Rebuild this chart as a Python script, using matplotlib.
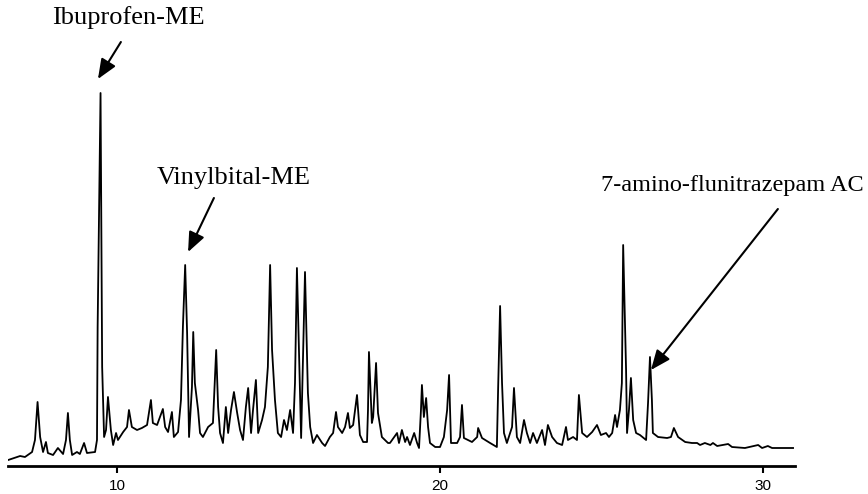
import matplotlib.pyplot as plt

# Chromatogram trace: retention time (min) and detector response
tempos = [6.63, 7.00, 7.15, 7.37, 7.46, 7.54, 7.62, 7.71, 7.80, 7.86, 8.02, 8.17, 8.33, 8.42, 8.48,
          8.54, 8.61, 8.76, 8.85, 8.98, 9.07, 9.32, 9.38, 9.40, 9.49, 9.54, 9.60, 9.66, 9.72, 9.81,
          9.88, 9.97, 10.03, 10.19, 10.31, 10.37, 10.46, 10.62, 10.77, 10.93, 11.05, 11.11, 11.24,
          11.42, 11.49, 11.58, 11.70, 11.76, 11.89, 11.98, 12.04, 12.11, 12.17, 12.23, 12.32, 12.36,
          12.41, 12.51, 12.57, 12.66, 12.82, 12.97, 13.07, 13.13, 13.19, 13.28, 13.37, 13.44, 13.53,
          13.62, 13.72, 13.81, 13.90, 13.99, 14.06, 14.15, 14.21, 14.30, 14.37, 14.49, 14.58, 14.67,
          14.74, 14.80, 14.89, 14.98, 15.08, 15.17, 15.26, 15.36, 15.45, 15.51, 15.57, 15.70, 15.82,
          15.91, 15.98, 16.07, 16.19, 16.35, 16.44, 16.59, 16.69, 16.78, 16.84, 16.97, 17.06, 17.15,
          17.21, 17.31, 17.43, 17.52, 17.62, 17.74, 17.77, 17.80, 17.89, 17.93, 18.02, 18.08, 18.20,
          18.39, 18.45, 18.67, 18.73, 18.82, 18.92, 18.98, 19.07, 19.20, 19.29, 19.35, 19.41, 19.44,
          19.50, 19.57, 19.63, 19.69, 19.85, 20.00, 20.12, 20.22, 20.28, 20.34, 20.53, 20.62, 20.68,
          20.74, 20.99, 21.15, 21.18, 21.30, 21.55, 21.76, 21.80, 21.86, 21.92, 21.98, 22.07, 22.23,
          22.29, 22.38, 22.48, 22.60, 22.69, 22.79, 22.88, 23.00, 23.16, 23.25, 23.34, 23.47, 23.62,
          23.78, 23.90, 23.96, 24.12, 24.24, 24.30, 24.40, 24.55, 24.71, 24.86, 24.98, 25.14, 25.23,
          25.33, 25.42, 25.48, 25.57, 25.63, 25.67, 25.76, 25.79, 25.85, 25.91, 25.98, 26.07, 26.19,
          26.38, 26.44, 26.50, 26.56, 26.59, 26.75, 27.03, 27.15, 27.24, 27.37, 27.59, 27.80, 27.96,
          28.05, 28.20, 28.37, 28.45, 28.58, 28.92, 29.04, 29.44, 29.85, 29.97, 30.15, 30.28, 30.93]

sinal = [6, 10, 9, 14, 26, 64, 29, 14, 24, 13, 11, 18, 12, 26, 53,
         26, 11, 14, 12, 23, 13, 14, 26, 139, 373, 99, 29, 36, 69, 36,
         21, 33, 26, 34, 39, 56, 39, 36, 38, 41, 66, 43, 41,
         57, 39, 34, 54, 29, 34, 66, 139, 201, 133, 29, 79, 134,
         83, 56, 33, 29, 39, 43, 116, 59, 33, 23, 59, 33, 56,
         74, 53, 36, 26, 59, 78, 33, 56, 86, 33, 46, 59, 99,
         201, 116, 66, 33, 29, 46, 36, 56, 33, 83, 198, 28, 194,
         73, 39, 23, 31, 23, 20, 29, 33, 54, 39, 33, 39, 53,
         38, 41, 71, 31, 24, 24, 56, 114, 43, 49, 103, 53, 29,
         23, 23, 33, 23, 36, 24, 29, 21, 33, 23, 18, 56, 81,
         49, 68, 39, 23, 19, 19, 29, 56, 91, 23, 23, 29, 61,
         28, 24, 29, 38, 28, 23, 19, 79, 160, 83, 33, 23, 39,
         78, 29, 23, 46, 33, 23, 33, 23, 36, 21, 41, 29, 23,
         21, 39, 26, 29, 26, 71, 33, 29, 34, 41, 31, 33, 29,
         33, 51, 39, 56, 83, 221, 96, 33, 56, 88, 46, 33, 31,
         26, 63, 109, 66, 33, 29, 28, 29, 38, 29, 24, 23, 23,
         21, 23, 21, 23, 20, 22, 19, 18, 21, 18, 20, 18, 18]

marcas = [10, 20, 30]

fig = plt.figure(figsize=(8.68, 4.94), dpi=100)
ax = fig.add_axes([8 / 868, 28 / 494, 787 / 868, 466 / 494])

ax.plot(tempos, sinal, color='black', lw=1.3)
ax.set_xlim(6.625, 30.99)
ax.set_ylim(0, 466)

# so o eixo de baixo aparece
for lado in ['top', 'right', 'left']:
    ax.spines[lado].set_visible(False)
ax.spines['bottom'].set_linewidth(2)
ax.set_yticks([])
ax.set_xticks(marcas)
ax.set_xticklabels([str(m) for m in marcas], family=['Liberation Sans Narrow', 'Liberation Sans'], fontsize=11)
ax.tick_params(axis='x', direction='out', length=5, width=1.5, pad=4)

# anotacoes dos picos
serif = ['Liberation Serif', 'DejaVu Serif']
seta = dict(arrowstyle='-|>,head_length=0.6,head_width=0.25', color='black', lw=1.5,
            shrinkA=0, shrinkB=0, mutation_scale=20)

ax.text(10.34, 448, 'Ibuprofen-ME', family=serif, fontsize=19, ha='center', va='center')
ax.annotate('', xy=(9.41, 387), xytext=(10.12, 424), arrowprops=seta)

ax.text(11.24, 288, 'Vinylbital-ME', family=serif, fontsize=19, ha='left', va='center')
ax.annotate('', xy=(12.20, 214), xytext=(13.00, 268), arrowprops=seta)

ax.text(24.98, 280, '7-amino-flunitrazepam AC', family=serif, fontsize=17.5, ha='left', va='center')
ax.annotate('', xy=(26.53, 96), xytext=(30.46, 257), arrowprops=seta)

plt.savefig('out.png', dpi=100)
